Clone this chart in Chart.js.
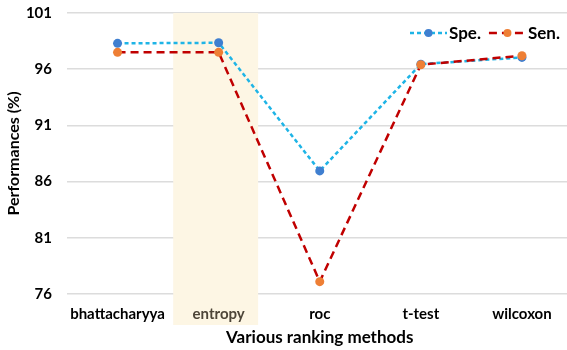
<!DOCTYPE html>
<html>
<head>
<meta charset="utf-8">
<script src="https://cdn.jsdelivr.net/npm/chart.js@4"></script>
<style>
  html, body { margin: 0; padding: 0; background: #fff; }
  #wrap { width: 567px; height: 350px; overflow: hidden; }
</style>
</head>
<body>
<div id="wrap"><canvas id="perfChart" width="577" height="350"></canvas></div>
<script>
const methods = ["bhattacharyya", "entropy", "roc", "t-test", "wilcoxon"];
const speValues = [98.3, 98.35, 86.95, 96.45, 97.05];
const senValues = [97.5, 97.5, 77.1, 96.4, 97.2];
const yTicks = [76, 81, 86, 91, 96, 101];
const highlighted = "entropy";

const FONT = "Lato, 'DejaVu Sans', sans-serif";

// cream band behind the highlighted category (runs under the tick label too)
const bandPlugin = {
  id: "band",
  beforeDatasetsDraw(chart) {
    const { ctx, chartArea, scales } = chart;
    const i = methods.indexOf(highlighted);
    const x = scales.x.getPixelForValue(i) - 3;
    const half = (scales.x.width / methods.length) * 0.42;
    ctx.save();
    ctx.fillStyle = "#fdf6e4";
    ctx.fillRect(x - half, chartArea.top, half * 2, 325 - chartArea.top);
    // put the x label back on top of the band
    ctx.beginPath();
    ctx.rect(x - half, chartArea.bottom, half * 2, 40);
    ctx.clip();
    scales.x.drawLabels(chartArea);
    ctx.restore();
  }
};

// legend: dashed line with a dot, then label
const legendPlugin = {
  id: "dashLegend",
  afterDraw(chart) {
    const { ctx } = chart;
    const ds = chart.data.datasets;
    const items = [ds[0], ds[1]];
    let x = 410;
    const y = 33;
    ctx.save();
    ctx.font = "bold 17px " + FONT;
    ctx.textBaseline = "middle";
    items.forEach((d) => {
      ctx.strokeStyle = d.borderColor;
      ctx.lineWidth = 2.5;
      ctx.setLineDash(d.borderDash);
      ctx.beginPath();
      ctx.moveTo(x, y);
      ctx.lineTo(x + 37, y);
      ctx.stroke();
      ctx.setLineDash([]);
      ctx.fillStyle = d.pointBackgroundColor;
      ctx.beginPath();
      ctx.arc(x + 18.5, y, 4, 0, Math.PI * 2);
      ctx.fill();
      ctx.fillStyle = "#000";
      ctx.fillText(d.label, x + 39, y + 1);
      x += 39 + ctx.measureText(d.label).width + 8;
    });
    ctx.restore();
  }
};

new Chart(document.getElementById("perfChart").getContext("2d"), {
  type: "line",
  data: {
    labels: methods,
    datasets: [
      {
        label: "Spe.",
        data: speValues,
        borderColor: "#1eb4e6",
        borderDash: [4, 3],
        borderWidth: 2.5,
        pointBackgroundColor: "#3f7fd0",
        pointBorderWidth: 0,
        pointRadius: 4.5,
        tension: 0,
        order: 1
      },
      {
        label: "Sen.",
        data: senValues,
        borderColor: "#c00000",
        borderDash: [8, 5],
        borderWidth: 2.5,
        pointBackgroundColor: "#ee7f35",
        pointBorderWidth: 0,
        pointRadius: 4.5,
        tension: 0,
        order: 0
      }
    ]
  },
  options: {
    responsive: false,
    animation: false,
    layout: { padding: { top: 0, right: 0, bottom: 0, left: 0 } },
    plugins: {
      legend: { display: false },
      tooltip: { enabled: false }
    },
    scales: {
      x: {
        offset: true,
        grid: { display: false },
        border: { display: false },
        ticks: {
          padding: 3,
          font: { family: FONT, size: 15, weight: "bold" },
          color: (c) => (methods[c.index] === highlighted ? "#4d4538" : "#000")
        },
        title: {
          display: true,
          text: "Various ranking methods",
          font: { family: FONT, size: 17, weight: "bold" },
          color: "#000",
          padding: { top: 4, bottom: 2 }
        },
        afterFit: (s) => { s.height = 56; s.paddingLeft = 0; s.paddingRight = 0; }
      },
      y: {
        min: yTicks[0],
        max: yTicks[yTicks.length - 1],
        afterBuildTicks: (s) => { s.ticks = yTicks.map((v) => ({ value: v })); },
        grid: { color: "#dcdcdc", lineWidth: 1.5, drawTicks: false },
        border: { display: false },
        ticks: {
          padding: 15,
          font: { family: FONT, size: 15, weight: "bold" },
          color: "#000"
        },
        title: {
          display: true,
          text: "Performances (%)",
          font: { family: FONT, size: 16, weight: "bold" },
          color: "#000",
          padding: { top: 4, bottom: 0 }
        },
        afterFit: (s) => { s.width = 67; s.paddingTop = 13; s.paddingBottom = 0; }
      }
    }
  },
  plugins: [bandPlugin, legendPlugin]
});
</script>
</body>
</html>
